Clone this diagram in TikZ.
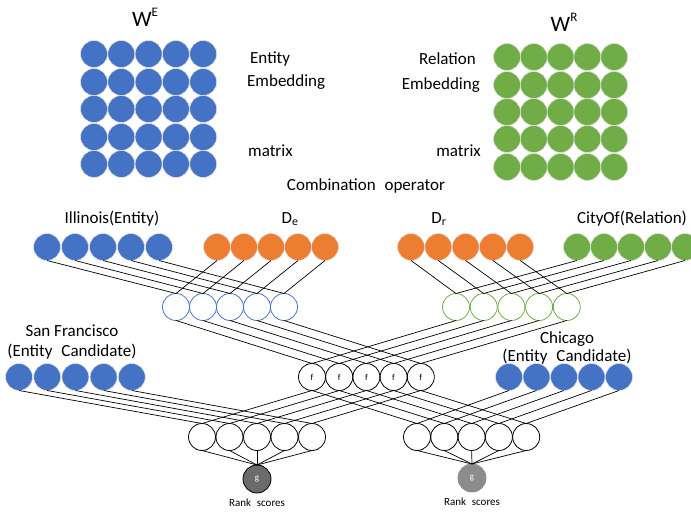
\documentclass[tikz,border=0pt]{standalone}
\usepackage{fontspec}
\setmainfont{Carlito}
\definecolor{eblue}{HTML}{4472C4}
\definecolor{dorange}{HTML}{ED7D31}
\definecolor{rgreen}{HTML}{70AD47}
\begin{document}
\begin{tikzpicture}[x=1pt,y=-1pt,
  unit/.style={circle,minimum size=27pt,inner sep=0pt,outer sep=0pt},
  fullB/.style={unit,fill=eblue,draw=black!12,line width=0.6pt},
  fullO/.style={unit,fill=dorange,draw=black!12,line width=0.6pt},
  fullG/.style={unit,fill=rgreen,draw=black!12,line width=0.6pt},
  ringB/.style={unit,draw=eblue,line width=0.8pt},
  ringG/.style={unit,draw=rgreen,line width=0.8pt},
  ringK/.style={unit,draw=black,line width=0.8pt},
  fnode/.style={ringK,font=\fontsize{9}{9}\selectfont},
  gnode/.style={circle,minimum size=28pt,inner sep=0pt,outer sep=0pt,line width=0.8pt,text=white,font=\fontsize{9}{9}\selectfont},
  wire/.style={line width=0.7pt},
  lbl/.style={inner sep=0pt,font=\fontsize{17}{20}\selectfont},
  big/.style={inner sep=0pt,font=\fontsize{22}{24}\selectfont},
  small/.style={inner sep=0pt,font=\fontsize{11}{12}\selectfont}]
\useasboundingbox (0,0) rectangle (691,513);

% embedding matrices
\foreach \r/\y in {1/54,2/82,3/109,4/137,5/164}
  \foreach \c in {1,...,5}
    \node[fullB] (we-\r-\c) at ({94+27.3*(\c-1)},\y) {};
\foreach \r/\y in {1/57,2/85,3/112,4/139,5/167}
  \foreach \c in {1,...,5}
    \node[fullG] (wr-\r-\c) at ({507+26.8*(\c-1)},\y) {};

\node[big] (WE) at (145,17) {W\raisebox{0.45em}{\fontsize{13}{13}\selectfont E}};
\node[big] (WR) at (564,22) {W\raisebox{0.45em}{\fontsize{13}{13}\selectfont R}};

\node[lbl,anchor=west] (te1) at (250,59) {Entity};
\node[lbl,anchor=west] (te2) at (247,82) {Embedding};
\node[lbl,anchor=west] (te3) at (248,151) {matrix};
\node[lbl,anchor=east] (tr1) at (476,59) {Relation};
\node[lbl,anchor=east] (tr2) at (480,85) {Embedding};
\node[lbl,anchor=east] (tr3) at (481,151) {matrix};
\node[lbl] (comb) at (366,186) {Combination\hspace{0.3em} operator};

% input vectors
\foreach \i in {1,...,5}{
  \node[fullB] (ill\i) at ({47+28*(\i-1)},247) {};
  \node[fullO] (de\i)  at ({217+27*(\i-1)},247) {};
  \node[fullO] (dr\i)  at ({411+27.3*(\i-1)},247) {};
  \node[fullG] (rel\i) at ({577+27*(\i-1)},247) {};
}
\node[lbl] (lill) at (112,219) {Illinois(Entity)};
\node[lbl] (lde)  at (290,219) {D\textsubscript{e}};
\node[lbl] (ldr)  at (439,219) {D\textsubscript{r}};
\node[lbl] (lrel) at (632,219) {CityOf(Relation)};

% combination layer
\foreach \i in {1,...,5}{
  \node[ringB] (cb\i) at ({176+27*(\i-1)},307) {};
  \node[ringG] (cg\i) at ({456+27.7*(\i-1)},307) {};
}

% f layer and candidates
\foreach \i in {1,...,5}{
  \node[fnode] (f\i) at ({312+27.2*(\i-1)},377) {f};
  \node[fullB] (sf\i) at ({19+28.2*(\i-1)},377) {};
  \node[fullB] (chi\i) at ({509+27.5*(\i-1)},377) {};
}
\node[lbl] (lsf1) at (72,331) {San Francisco};
\node[lbl] (lsf2) at (72,352) {(Entity\hspace{0.3em} Candidate)};
\node[lbl] (lch1) at (567,339) {Chicago};
\node[lbl] (lch2) at (567,357) {(Entity\hspace{0.3em} Candidate)};

% scoring layer
\foreach \i in {1,...,5}{
  \node[ringK] (bl\i) at ({202+27.5*(\i-1)},437) {};
  \node[ringK] (br\i) at ({417+27.3*(\i-1)},437) {};
}
\node[gnode,fill=black!58,draw=black] (gl) at (257,479) {g};
\node[gnode,fill=black!45,draw=black!45] (gr) at (472,478) {g};
\node[small] (rs1) at (257,503) {Rank\hspace{0.3em} scores};
\node[small] (rs2) at (472,502) {Rank\hspace{0.3em} scores};

% connections
\foreach \i in {1,...,5}{
  \draw[wire] (ill\i.south) -- (cb\i.north);
  \draw[wire] (de\i.south) -- (cb\i.north);
  \draw[wire] (dr\i.south) -- (cg\i.north);
  \draw[wire] (rel\i.south) -- (cg\i.north);
  \draw[wire] (cb\i.south) -- (f\i.north);
  \draw[wire] (cg\i.south) -- (f\i.north);
  \draw[wire] (f\i.south) -- (bl\i.north);
  \draw[wire] (f\i.south) -- (br\i.north);
  \draw[wire] (sf\i.south) -- (bl\i.north);
  \draw[wire] (chi\i.south) -- (br\i.north);
  \draw[wire] (bl\i.south) -- (gl.north);
  \draw[wire] (br\i.south) -- (gr.north);
}
\end{tikzpicture}
\end{document}
